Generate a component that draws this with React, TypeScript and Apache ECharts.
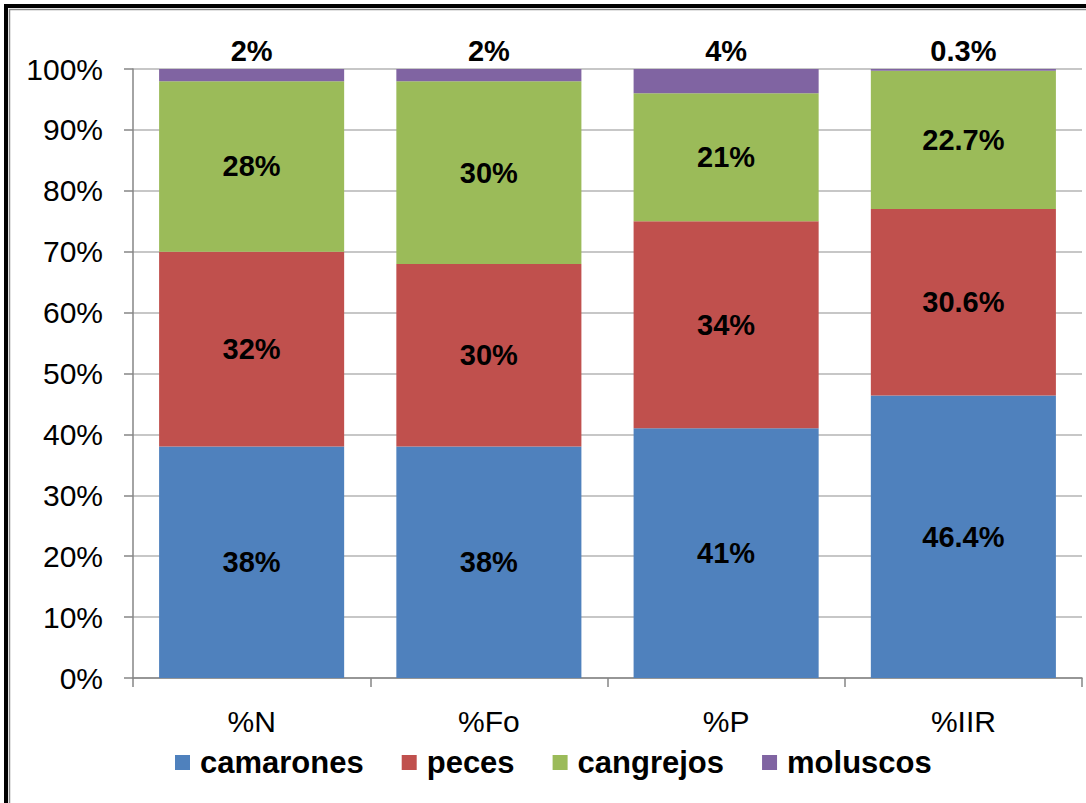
import React, { useEffect, useRef } from "react";
import * as echarts from "echarts";

// Diet composition per index (stacked to 100%)
const categories = ["%N", "%Fo", "%P", "%IIR"];
const camarones = [38, 38, 41, 46.4];
const peces = [32, 30, 34, 30.6];
const cangrejos = [28, 30, 21, 22.7];
const moluscos = [2, 2, 4, 0.3];
const yTicks = { min: 0, max: 100, interval: 10 };

const FONT = "'Liberation Sans', Arial, sans-serif";
const AXIS_GRAY = "#868686";

const labelStyle = {
  show: true,
  position: "inside" as const,
  formatter: (p: any) => `${p.value}%`,
  color: "#000",
  fontSize: 29,
  fontWeight: "bold" as const,
  fontFamily: FONT,
};

export default function App() {
  const ref = useRef<HTMLDivElement>(null);

  useEffect(() => {
    if (!ref.current) return;
    const chart = echarts.init(ref.current, undefined, { renderer: "svg" });
    const makeSeries = (name: string, data: number[], color: string, top = false) => ({
      name,
      type: "bar",
      stack: "total",
      data,
      barCategoryGap: "22%",
      itemStyle: { color },
      label: top ? { ...labelStyle, position: "top", distance: 4 } : labelStyle,
    });
    chart.setOption({
      animation: false,
      backgroundColor: "#fff",
      textStyle: { fontFamily: FONT },
      grid: { left: 133, right: 4, top: 69, bottom: 125 },
      xAxis: {
        type: "category",
        data: categories,
        axisLine: { lineStyle: { color: AXIS_GRAY, width: 1.5 } },
        axisTick: { show: true, length: 9, lineStyle: { color: AXIS_GRAY, width: 1.5 } },
        axisLabel: { color: "#000", fontSize: 30, fontFamily: FONT, margin: 28 },
      },
      yAxis: {
        type: "value",
        min: yTicks.min,
        max: yTicks.max,
        interval: yTicks.interval,
        axisLine: { show: true, lineStyle: { color: AXIS_GRAY, width: 1.5 } },
        axisTick: { show: true, length: 9, lineStyle: { color: AXIS_GRAY, width: 1.5 } },
        splitLine: { show: true, lineStyle: { color: "#b4b4b4", width: 1.5 } },
        axisLabel: {
          color: "#000",
          fontSize: 30,
          fontFamily: FONT,
          margin: 30,
          formatter: "{value}%",
        },
      },
      legend: {
        top: 742,
        left: 170,
        itemWidth: 15,
        itemHeight: 15,
        itemGap: 38,
        icon: "rect",
        textStyle: {
          color: "#000",
          fontSize: 31,
          fontWeight: "bold",
          fontFamily: FONT,
          padding: [0, 0, 0, 5],
        },
        data: ["camarones", "peces", "cangrejos", "moluscos"],
      },
      graphic: [
        {
          type: "rect",
          shape: { x: 6, y: 6, width: 1200, height: 1000 },
          style: { fill: "none", stroke: "#000", lineWidth: 4 },
          silent: true,
        },
        {
          type: "rect",
          shape: { x: 9.5, y: 9.5, width: 1200, height: 1000 },
          style: { fill: "none", stroke: "#8a8a8a", lineWidth: 1.5 },
          silent: true,
        },
      ],
      series: [
        makeSeries("camarones", camarones, "#4f81bd"),
        makeSeries("peces", peces, "#c0504d"),
        makeSeries("cangrejos", cangrejos, "#9bbb59"),
        makeSeries("moluscos", moluscos, "#8064a2", true),
      ],
    });
    return () => chart.dispose();
  }, []);

  return (
    <div
      ref={ref}
      style={{ position: "fixed", left: 0, top: 0, width: 1086, height: 803 }}
    />
  );
}
